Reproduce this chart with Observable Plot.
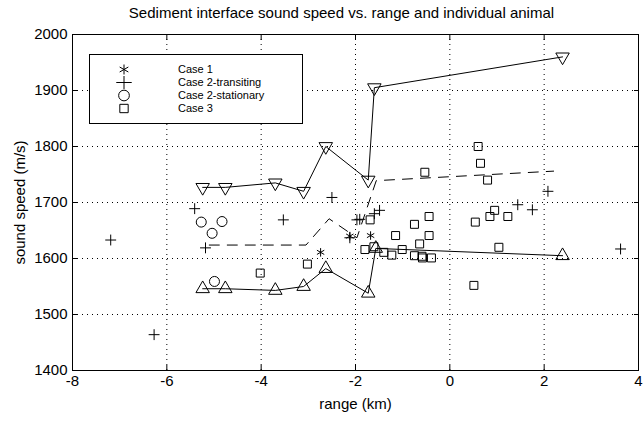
<!DOCTYPE html>
<html><head><meta charset="utf-8">
<script src="https://cdn.jsdelivr.net/npm/d3@7"></script>
<script src="https://cdn.jsdelivr.net/npm/@observablehq/plot@0.6"></script>
<style>
body{margin:0;background:#fff;font-family:"Liberation Sans",Arial,sans-serif;}
#wrap{position:relative;width:643px;}
#title{height:24px;line-height:26px;text-align:center;font-size:15px;padding-left:40px;}
#legend{position:absolute;left:89px;top:54px;width:212px;height:68px;border:1px solid #000;background:#fff;font-size:11px;}
#legend .row{position:absolute;left:0;height:13px;line-height:13px;}
#legend svg{position:absolute;left:26px;top:0;}
#legend span{position:absolute;left:88px;white-space:nowrap;}
</style></head><body>
<div id="wrap"><div id="title">Sediment interface sound speed vs. range and individual animal</div><div id="chart"></div>
<div id="legend"></div></div>
<script>
const case1X=[-2.74,-2.12,-1.68];
const case1Y=[1611,1640,1641];
const case2tX=[-7.19,-6.27,-5.41,-5.18,-3.53,-2.50,-2.12,-1.97,-1.91,-1.6,-1.49,1.44,1.75,2.08,3.62];
const case2tY=[1633,1464,1689,1619,1669,1709,1637,1669,1670,1680,1686,1696,1687,1720,1617];
const case2sX=[-5.27,-4.83,-5.04,-4.99];
const case2sY=[1665,1666,1645,1559];
const case3X=[-4.02,-3.02,-1.69,-1.80,-1.61,-1.40,-1.23,-1.01,-1.15,-0.75,-0.44,-0.44,-0.64,-0.75,-0.59,-0.58,-0.39,-0.53,0.65,0.80,0.54,0.85,0.95,1.23,1.04,0.51,0.60];
const case3Y=[1574,1590,1669,1616,1621,1611,1606,1616,1641,1661,1675,1641,1626,1605,1604,1601,1601,1754,1770,1740,1665,1675,1686,1675,1620,1552,1800];
const lowX=[-5.24,-4.76,-3.70,-3.10,-2.63,-1.73,-1.57,2.39];
const lowY=[1546,1546,1543,1550,1582,1538,1618,1605];
const upX=[-5.24,-4.76,-3.70,-3.10,-2.63,-1.73,-1.60,2.39];
const upY=[1727,1727,1735,1720,1800,1740,1905,1960];
const meanX=[-5.1,-3.05,-2.56,-1.97,-1.56,2.2];
const meanY=[1624,1624,1671,1637,1739,1756];
const xTicks=[-8,-6,-4,-2,0,2,4];
const yTicks=[1400,1500,1600,1700,1800,1900,2000];

const zip=(xs,ys)=>xs.map((x,i)=>({x,y:ys[i]}));
const c1=zip(case1X,case1Y),c2t=zip(case2tX,case2tY),c2s=zip(case2sX,case2sY),c3=zip(case3X,case3Y);
const lo=zip(lowX,lowY),up=zip(upX,upY),mn=zip(meanX,meanY);
const dot=(d,sym,r,extra={})=>Plot.dot(d,{x:"x",y:"y",symbol:sym,r,stroke:"black",fill:"none",strokeWidth:1,...extra});
const fmt=d=>String(d);
const chart=Plot.plot({
  width:643,height:397,marginLeft:72,marginRight:5,marginTop:10,marginBottom:51,
  style:{fontFamily:"Liberation Sans, Arial, sans-serif",fontSize:"15px",background:"white",color:"black"},
  x:{domain:[-8,4],axis:null},
  y:{domain:[1400,2000],axis:null},
  marks:[
    Plot.gridX(xTicks,{stroke:"black",strokeOpacity:1,strokeDasharray:"1,4"}),
    Plot.gridY(yTicks,{stroke:"black",strokeOpacity:1,strokeDasharray:"1,4"}),
    Plot.frame({stroke:"black"}),
    Plot.axisX(xTicks,{tickSize:-5,tickPadding:10,tickFormat:fmt,label:"range (km)",labelAnchor:"center",labelArrow:"none",labelOffset:38,fontSize:15}),
    Plot.axisY(yTicks,{tickSize:-5,tickPadding:10,tickFormat:fmt,label:"sound speed (m/s)",labelAnchor:"center",labelArrow:"none",labelOffset:58,fontSize:15}),
    Plot.axisX(xTicks,{anchor:"top",tickSize:-5,tickFormat:()=>"",label:null}),
    Plot.axisY(yTicks,{anchor:"right",tickSize:-5,tickFormat:()=>"",label:null}),
    Plot.line(lo,{x:"x",y:"y",stroke:"black",strokeWidth:1}),
    Plot.line(up,{x:"x",y:"y",stroke:"black",strokeWidth:1}),
    Plot.line(mn,{x:"x",y:"y",stroke:"black",strokeWidth:1,strokeDasharray:"10,8"}),
    dot(lo,"triangle",5),
    dot(up,"triangle",5,{rotate:180}),
    dot(c1,"asterisk",4),
    dot(c2t,"plus",3.6),
    dot(c2s,"circle",5),
    dot(c3,"square",4.5)
  ]
});
document.getElementById("chart").appendChild(chart);
const leg=document.getElementById("legend");
const items=[["asterisk","Case 1"],["plus","Case 2-transiting"],["circle","Case 2-stationary"],["square","Case 3"]];
const symMap={asterisk:d3.symbolAsterisk,plus:d3.symbolPlus,circle:d3.symbolCircle,square:d3.symbolSquare};
const sizes={asterisk:70,plus:80,circle:90,square:70};
items.forEach(([s,t],i)=>{
  const row=document.createElement("div");row.className="row";row.style.top=(8+i*13)+"px";row.style.width="210px";
  row.innerHTML=`<svg width="16" height="13"><path transform="translate(8,6.5)" d="${d3.symbol(symMap[s],sizes[s])()}" fill="none" stroke="black"/></svg><span>${t}</span>`;
  leg.appendChild(row);
});
</script></body></html>
